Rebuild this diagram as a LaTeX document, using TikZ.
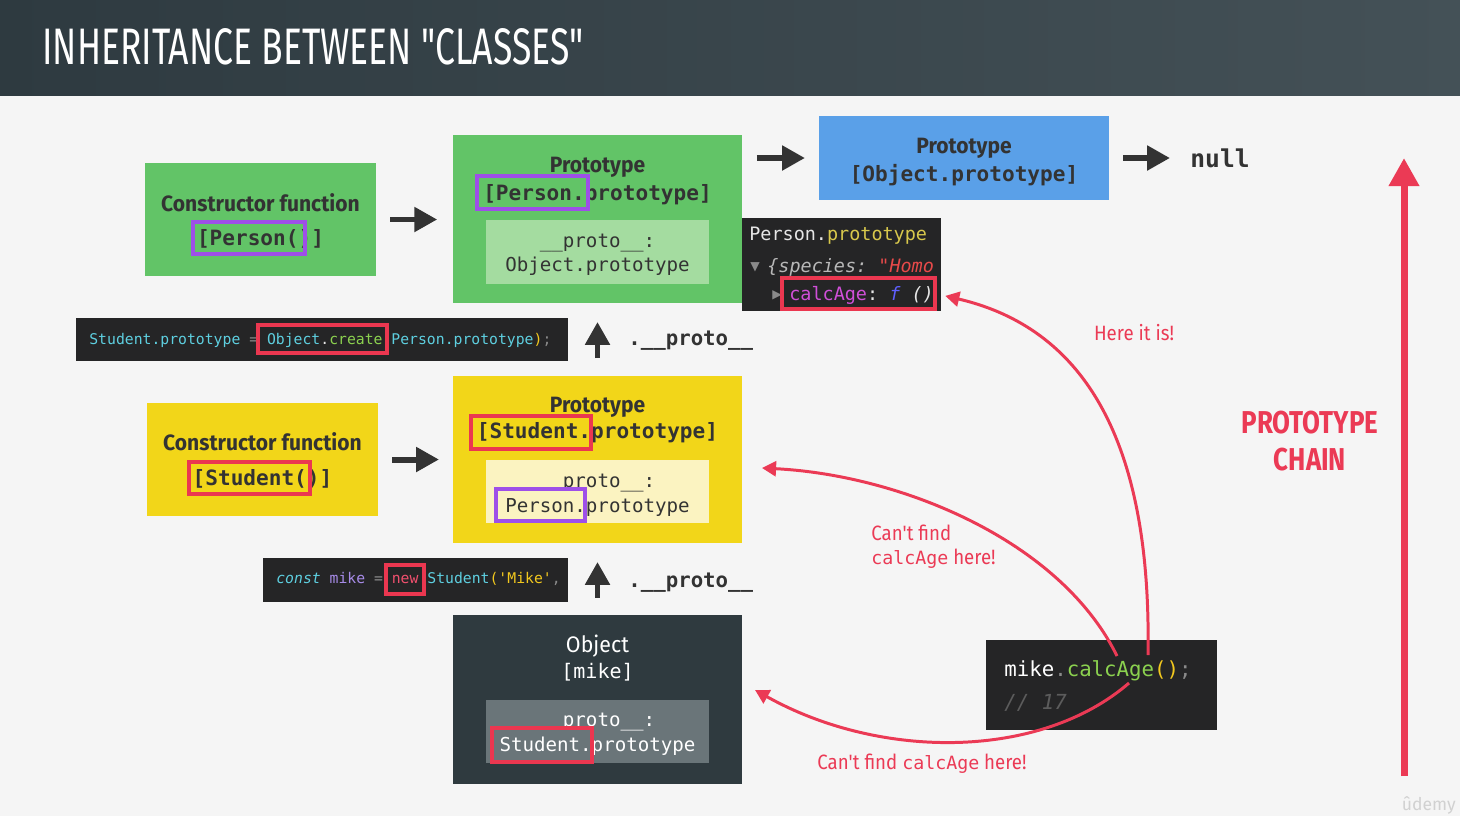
\documentclass[tikz,border=0pt]{standalone}
\usepackage{graphicx}
\usepackage{fontspec}
\setmainfont{Fira Sans}
\setmonofont{DejaVu Sans Mono}
\newfontfamily\condfont{Fira Sans}[FakeStretch=0.82]
\newfontfamily\headfont{Fira Sans}[FakeStretch=0.95]
\newfontfamily\lblfont{Fira Sans}[FakeStretch=0.9]
\newfontfamily\symfont{DejaVu Sans}
\usetikzlibrary{arrows.meta}
\definecolor{bgcol}{HTML}{F5F5F5}
\definecolor{barleft}{HTML}{2E3A40}
\definecolor{barright}{HTML}{445157}
\definecolor{pgreen}{HTML}{62C467}
\definecolor{pgreenlight}{HTML}{A4DCA0}
\definecolor{oblue}{HTML}{5AA0E8}
\definecolor{syellow}{HTML}{F2D619}
\definecolor{syellowlight}{HTML}{FBF3C1}
\definecolor{mdark}{HTML}{2F3A3F}
\definecolor{mgrey}{HTML}{6A7579}
\definecolor{codebg}{HTML}{252526}
\definecolor{txtdark}{HTML}{333333}
\definecolor{hlred}{HTML}{EB3750}
\definecolor{hlpurple}{HTML}{9E4FE8}
\definecolor{chainred}{HTML}{EB3A55}
\definecolor{cdcyan}{HTML}{5ECFE0}
\definecolor{cdgreen}{HTML}{8BD14F}
\definecolor{cdyellow}{HTML}{F2C81E}
\definecolor{cdgrey}{HTML}{8A8A8A}
\definecolor{cdwhite}{HTML}{E6E6E6}
\definecolor{cdpurple}{HTML}{A78BE8}
\definecolor{cdred}{HTML}{F0506E}
\definecolor{cmtgrey}{HTML}{5C5C5C}
\definecolor{cnsyellow}{HTML}{D8C84C}
\definecolor{cnsmagenta}{HTML}{D04FD8}
\definecolor{cnsblue}{HTML}{5F5FFF}
\definecolor{cnsred}{HTML}{E84A4A}
\definecolor{cnsgrey}{HTML}{B8B8B8}

\begin{document}
\begin{tikzpicture}[x=0.02cm, y=-0.02cm,
    box/.style={inner sep=0pt, outer sep=0pt},
    head/.style={anchor=base, inner sep=0pt, text=txtdark, font=\headfont\bfseries\fontsize{12.6}{14}\selectfont},
    monob/.style={anchor=base, inner sep=0pt, text=txtdark, font=\ttfamily\bfseries\fontsize{12}{14}\selectfont},
    monor/.style={anchor=base, inner sep=0pt, text=txtdark, font=\ttfamily\fontsize{10.9}{13}\selectfont},
    code/.style={anchor=base west, inner sep=0pt, font=\ttfamily\fontsize{8.4}{10}\selectfont},
    cons/.style={anchor=base west, inner sep=0pt, text=cdwhite, font=\ttfamily\fontsize{10.5}{12}\selectfont},
    hlbox/.style={line width=2.3pt},
    darr/.style={line width=3.4pt, draw=txtdark, -{Triangle[length=13pt,width=13.5pt]}},
    redarr/.style={line width=1.7pt, draw=chainred, -{Triangle[length=8pt,width=8.5pt]}},
    lbl/.style={anchor=base, inner sep=0pt, text=chainred, font=\lblfont\fontsize{11.8}{13}\selectfont}]
    \fill [bgcol] (0,0) rectangle (1460,816);
    \shade [left color=barleft, right color=barright] (0,0) rectangle (1460,95);
    \node [anchor=north west, inner sep=0pt, text=white] (title) at (42,28)
        {\resizebox{10.82cm}{0.72cm}{\condfont INHERITANCE BETWEEN "CLASSES"}};

    \node [box, fill=pgreen, minimum width=4.62cm, minimum height=2.26cm] (personfn) at (260.5,219.5) {};
    \node [head] (personfnlabel) at (260.5,211) {Constructor function};
    \node [monob] (personfnname) at (260.5,245) {[Person()]};
    \draw [hlbox, hlpurple] (193,222) rectangle (305,254);

    \node [box, fill=pgreen, minimum width=5.78cm, minimum height=3.36cm] (personproto) at (597.5,219) {};
    \node [head] (personprotolabel) at (597.5,172) {Prototype};
    \node [monob] (personprotoname) at (597.5,200) {[Person.prototype]};
    \draw [hlbox, hlpurple] (477,176) rectangle (588,209);
    \node [box, fill=pgreenlight, minimum width=4.46cm, minimum height=1.28cm] (personprotoinner) at (597.5,252) {};
    \node [monor] (personprotolink) at (597.5,247) {\_\_proto\_\_:};
    \node [monor] (personprotolinkval) at (597.5,271) {Object.prototype};

    \node [box, fill=oblue, minimum width=5.8cm, minimum height=1.68cm] (objproto) at (964,158) {};
    \node [head] (objprotolabel) at (964,153) {Prototype};
    \node [monob] (objprotoname) at (964,181) {[Object.prototype]};
    \node [monob, font=\ttfamily\bfseries\fontsize{14}{16}\selectfont] (null) at (1220,167) {null};

    \node [box, fill=codebg, minimum width=3.98cm, minimum height=1.86cm] (console) at (841.5,264.5) {};
    \node [cons] (constitle) at (749,240) {Person.\textcolor{cnsyellow}{prototype}};
    \node [cons, text=cdgrey, font=\symfont\fontsize{7}{8}\selectfont] (consopen) at (750,270) {▼};
    \node [cons] (consspecies) at (767,272) {\itshape\textcolor{cnsgrey}{\{species: }\textcolor{cnsred}{"Homo}};
    \node [cons, text=cdgrey, font=\symfont\fontsize{7}{8}\selectfont] (consclosed) at (772,298) {▶};
    \node [cons] (conscalc) at (789,300) {\textcolor{cnsmagenta}{calcAge}: \textit{\textcolor{cnsblue}{f} ()}};
    \node [box, draw=hlred, hlbox, minimum width=3.06cm, minimum height=0.62cm] (calcframe) at (858.5,293.5) {};

    \node [box, fill=codebg, minimum width=9.84cm, minimum height=0.86cm] (studentcode) at (322,339.5) {};
    \node [code] (studentcodetext) at (89,344) {\textcolor{cdcyan}{Student.prototype} \textcolor{cdgrey}{=} \textcolor{cdcyan}{Object}\textcolor{cdwhite}{.}\textcolor{cdgreen}{create}\textcolor{cdyellow}{(}\textcolor{cdcyan}{Person.prototype}\textcolor{cdyellow}{)}\textcolor{cdgrey}{;}};
    \draw [hlbox, hlred] (258,325) rectangle (387,353);
    \node [monob, anchor=base west, font=\ttfamily\bfseries\fontsize{11.8}{14}\selectfont] (protolinkone) at (628,345) {.\_\_proto\_\_};

    \node [box, fill=syellow, minimum width=4.62cm, minimum height=2.26cm] (studentfn) at (262.5,459.5) {};
    \node [head] (studentfnlabel) at (262.5,450) {Constructor function};
    \node [monob] (studentfnname) at (262.5,485) {[Student()]};
    \draw [hlbox, hlred] (189,462) rectangle (310,494);

    \node [box, fill=syellow, minimum width=5.78cm, minimum height=3.34cm] (studentproto) at (597.5,459.5) {};
    \node [head] (studentprotolabel) at (597.5,412) {Prototype};
    \node [monob] (studentprotoname) at (597.5,438) {[Student.prototype]};
    \draw [hlbox, hlred] (471,416) rectangle (591,449);
    \node [box, fill=syellowlight, minimum width=4.46cm, minimum height=1.26cm] (studentprotoinner) at (597.5,491.5) {};
    \node [monor] (studentprotolink) at (597.5,487) {\phantom{\_\_}proto\_\_:};
    \node [monor] (studentprotolinkval) at (597.5,512) {Person.prototype};
    \draw [hlbox, hlpurple] (496,489) rectangle (585,521);

    \node [box, fill=codebg, minimum width=6.1cm, minimum height=0.88cm] (mikecode) at (415.5,580) {};
    \node [code] (mikecodetext) at (276,583) {\textcolor{cdcyan}{\itshape const} \textcolor{cdpurple}{mike} \textcolor{cdgrey}{=} \textcolor{cdred}{new} \textcolor{cdcyan}{Student}\textcolor{cdyellow}{('Mike'}\textcolor{cdgrey}{,}};
    \draw [hlbox, hlred] (386,565) rectangle (424,594);
    \node [monob, anchor=base west, font=\ttfamily\bfseries\fontsize{11.8}{14}\selectfont] (protolinktwo) at (628,587) {.\_\_proto\_\_};

    \node [box, fill=mdark, minimum width=5.78cm, minimum height=3.38cm] (mikeobj) at (597.5,699.5) {};
    \node [head, text=white, font=\headfont\fontsize{12.8}{14}\selectfont] (mikeobjlabel) at (597.5,652) {Object};
    \node [monor, text=white, font=\ttfamily\fontsize{11.4}{13}\selectfont] (mikeobjname) at (597.5,678) {[mike]};
    \node [box, fill=mgrey, minimum width=4.46cm, minimum height=1.26cm] (mikeobjinner) at (597.5,731.5) {};
    \node [monor, text=white] (mikeobjlink) at (597.5,726) {\phantom{\_\_}proto\_\_:};
    \node [monor, text=white] (mikeobjlinkval) at (597.5,751) {Student.prototype};
    \draw [hlbox, hlred] (492,728) rectangle (592,762);

    \draw [darr, shorten <=8pt, shorten >=9pt] (personfn.east) -- (personfn.east -| personproto.west);
    \draw [darr, shorten <=8.5pt, shorten >=8pt] (personproto.east |- objproto.west) -- (objproto.west);
    \draw [darr, shorten <=8pt, shorten >=11.4pt] (objproto.east) -- (objproto.east -| null.west);
    \draw [darr, shorten <=8pt, shorten >=8pt] (studentfn.east) -- (studentfn.east -| studentproto.west);
    \draw [darr, shorten <=10.2pt, shorten >=10.8pt] (studentproto.north) -- (personproto.south);
    \draw [darr, shorten <=9.7pt, shorten >=10.8pt] (mikeobj.north) -- (studentproto.south);

    \node [box, fill=codebg, minimum width=4.62cm, minimum height=1.8cm] (mikecall) at (1101.5,685) {};
    \node [cons, font=\ttfamily\fontsize{11.8}{14}\selectfont] (mikecalltext) at (1004,676) {\textcolor{white}{mike}\textcolor{cdgrey}{.}\textcolor{cdgreen}{calcAge}\textcolor{cdyellow}{()}\textcolor{cdgrey}{;}};
    \node [cons, text=cmtgrey, font=\ttfamily\itshape\fontsize{11.8}{14}\selectfont] (mikecallresult) at (1004,709) {// 17};

    \coordinate (upstart) at (1148,655);
    \coordinate (midstart) at (1117,656);
    \coordinate (lowstart) at (1129,683);
    \coordinate (studenthit) at (762,468);
    \coordinate (mikehit) at (755,690);
    \draw [redarr, shorten >=6pt] (upstart) .. controls (1152,420) and (1070,325) .. (calcframe.east);
    \draw [redarr] (midstart) .. controls (1060,540) and (900,475) .. (studenthit);
    \draw [redarr] (lowstart) .. controls (1040,760) and (880,760) .. (mikehit);

    \node [lbl] (foundlabel) at (1134,340) {Here it is!};
    \node [lbl, anchor=base west] (studentmiss) at (871,540) {Can't find};
    \node [lbl, anchor=base west] (studentmisstwo) at (871,564) {{\ttfamily\fontsize{10.4}{12}\selectfont calcAge} here!};
    \node [lbl] (mikemiss) at (922,769) {Can't find {\ttfamily\fontsize{10.4}{12}\selectfont calcAge} here!};

    \coordinate (chainbottom) at (1404,776);
    \coordinate (chaintop) at (1404,158);
    \draw [line width=4pt, chainred, -{Triangle[length=16pt,width=16.5pt]}] (chainbottom) -- (chaintop);
    \node [anchor=base, inner sep=0pt, text=chainred, font=\condfont\bfseries\fontsize{18}{20}\selectfont] (chainlabel) at (1310,433) {PROTOTYPE};
    \node [anchor=base, inner sep=0pt, text=chainred, font=\condfont\bfseries\fontsize{18}{20}\selectfont] (chainlabeltwo) at (1310,470) {CHAIN};

    \node [anchor=base east, inner sep=0pt, text=black!18, font=\fontsize{10}{12}\selectfont] (logo) at (1456,810) {ûdemy};
\end{tikzpicture}
\end{document}
